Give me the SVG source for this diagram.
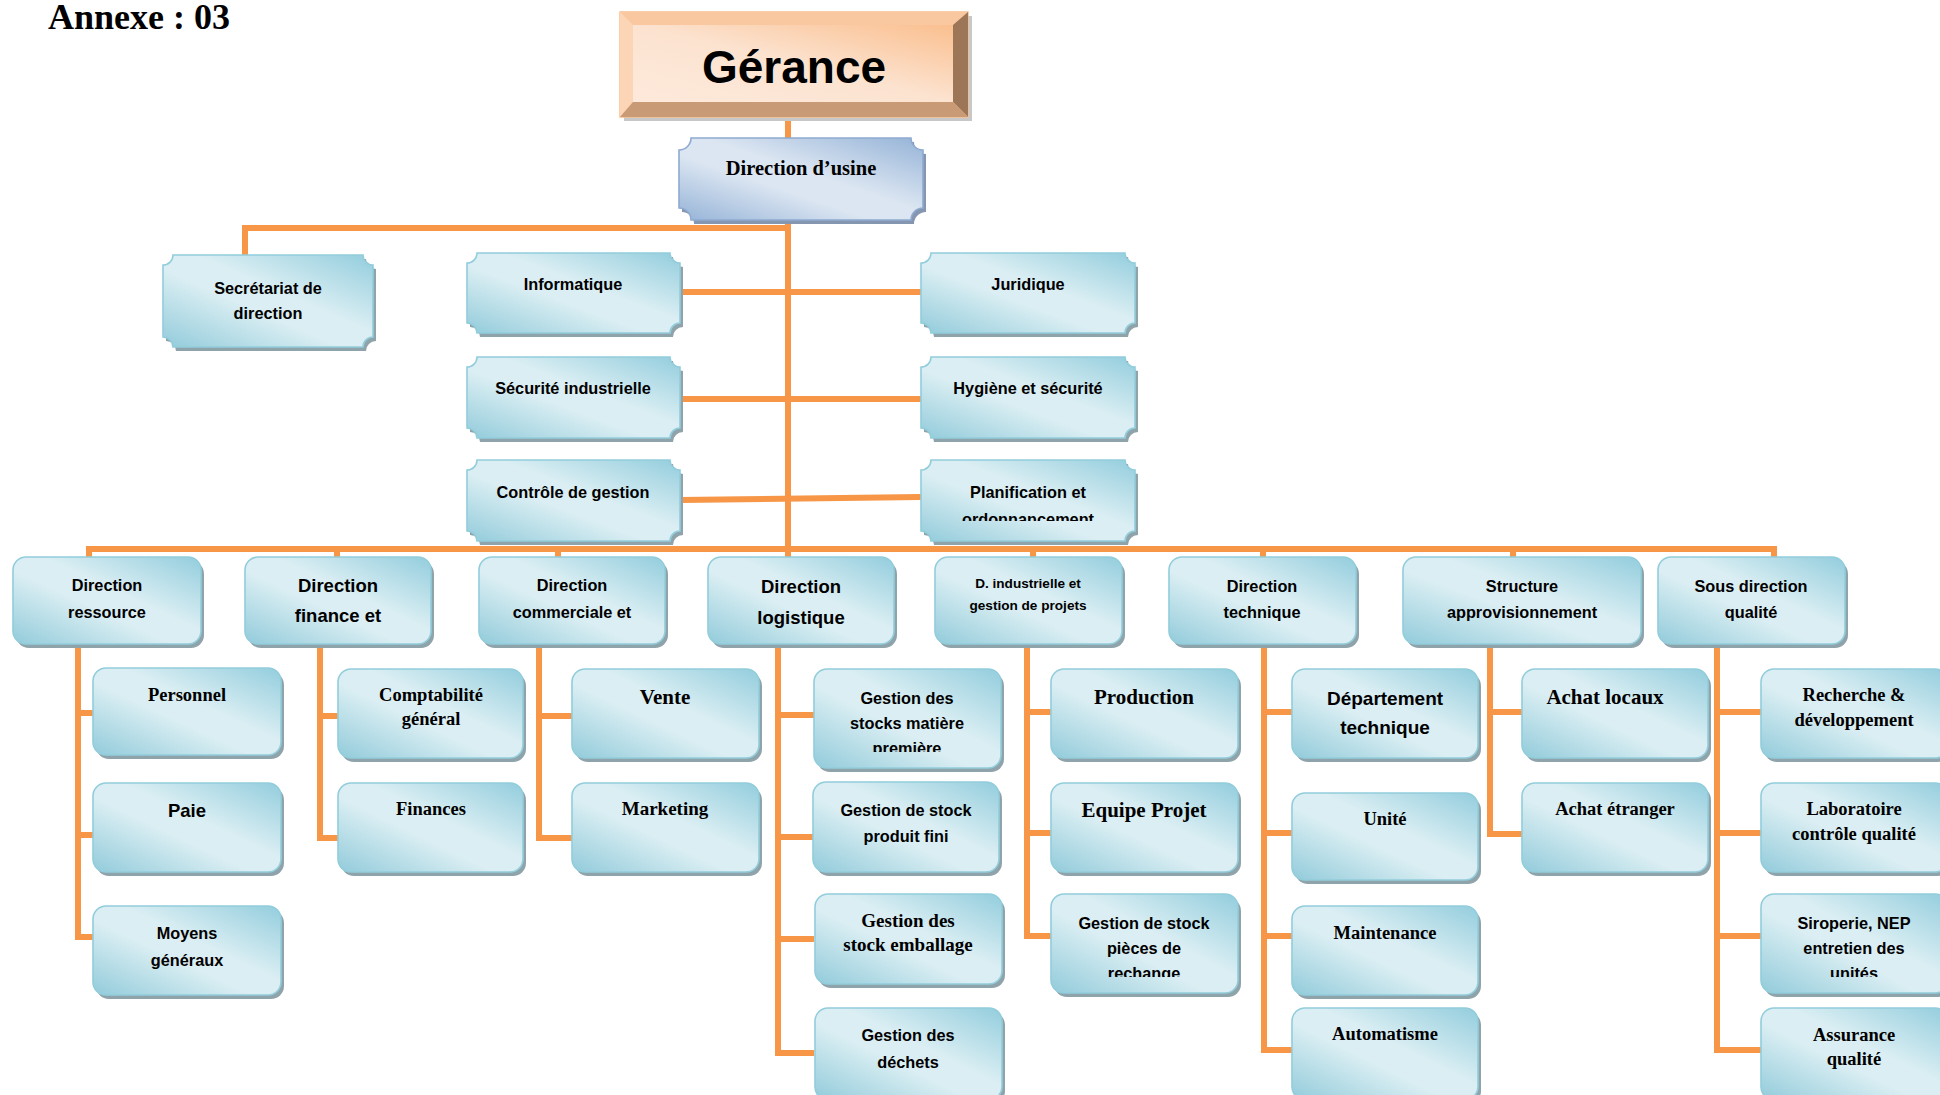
<svg xmlns="http://www.w3.org/2000/svg" width="1940" height="1095" viewBox="0 0 1940 1095">
<style>
.bx{fill:url(#gb);stroke:#92cddc;stroke-width:1.6}
.sh{fill:#8fa3ab}
.pl{fill:url(#gb);stroke:#92cddc;stroke-width:1.6}
.cn{fill:none;stroke:#f79646;stroke-width:6;stroke-linejoin:miter;stroke-linecap:butt}
text{text-anchor:middle;font-weight:bold;fill:#000}
.s{font-family:"Liberation Sans",Arial,sans-serif;font-size:16.3px}
.sm{font-family:"Liberation Sans",Arial,sans-serif;font-size:13.6px}
.sl{font-family:"Liberation Sans",Arial,sans-serif;font-size:18.5px}
.f{font-family:"Liberation Serif","Times New Roman",serif;font-size:18.5px}
.fl{font-family:"Liberation Serif","Times New Roman",serif;font-size:21px}
</style>
<defs>
<linearGradient id="gb" x1="1" y1="0" x2="0" y2="1">
<stop offset="0" stop-color="#93cddd"/>
<stop offset="0.42" stop-color="#daeef3"/>
<stop offset="0.58" stop-color="#daeef3"/>
<stop offset="1" stop-color="#92cbda"/>
</linearGradient>
<linearGradient id="gu" x1="1" y1="0" x2="0" y2="1">
<stop offset="0" stop-color="#95b3d7"/>
<stop offset="0.45" stop-color="#dce6f2"/>
<stop offset="0.6" stop-color="#dce6f2"/>
<stop offset="1" stop-color="#95b3d7"/>
</linearGradient>
<linearGradient id="go" x1="0" y1="1" x2="1" y2="0">
<stop offset="0" stop-color="#fde9db"/>
<stop offset="0.5" stop-color="#fce3d0"/>
<stop offset="1" stop-color="#fabf8f"/>
</linearGradient>
<clipPath id="c1" clipPathUnits="userSpaceOnUse"><rect x="900" y="450" width="260" height="71"/></clipPath>
<clipPath id="c2" clipPathUnits="userSpaceOnUse"><rect x="800" y="660" width="220" height="92"/></clipPath>
<clipPath id="c3" clipPathUnits="userSpaceOnUse"><rect x="1040" y="880" width="220" height="97"/></clipPath>
<clipPath id="c4" clipPathUnits="userSpaceOnUse"><rect x="1750" y="880" width="190" height="97"/></clipPath>
</defs>
<rect width="1940" height="1095" fill="#fff"/>

<text x="139" y="29" style="font-family:'Liberation Serif','Times New Roman',serif;font-size:36px">Annexe : 03</text>

<g id="connectors">
<path class="cn" d="M788,117 V138"/>
<path class="cn" d="M788,220 V557"/>
<path class="cn" d="M245,255 V228 H788"/>
<path class="cn" d="M680,292 H921"/>
<path class="cn" d="M680,399 H921"/>
<path class="cn" d="M680,500 L921,497"/>
<path class="cn" d="M89,557 V549 H1774 V557"/>
<path class="cn" d="M337,549 V557 M558,549 V557 M1033,549 V557 M1263,549 V557 M1513,549 V557"/>
<path class="cn" d="M78,644 V937 H93 M78,713 H93 M78,835 H93"/>
<path class="cn" d="M320,644 V838 H338 M320,716 H338"/>
<path class="cn" d="M539,644 V838 H572 M539,716 H572"/>
<path class="cn" d="M778,644 V1053 H814 M778,715 H814 M778,837 H814 M778,939 H814"/>
<path class="cn" d="M1027,644 V936 H1051 M1027,712 H1051 M1027,833 H1051"/>
<path class="cn" d="M1264,644 V1050 H1292 M1264,712 H1292 M1264,833 H1292 M1264,936 H1292"/>
<path class="cn" d="M1490,644 V834 H1522 M1490,712 H1522"/>
<path class="cn" d="M1717,644 V1050 H1761 M1717,712 H1761 M1717,833 H1761 M1717,936 H1761"/>
</g>

<g id="gerance">
<rect x="624" y="16" width="348" height="105" fill="#c8c8c8"/>
<rect x="620" y="12" width="348" height="105" fill="#f9c8a0" stroke="#fabf8f" stroke-width="1.5"/>
<polygon points="620,12 968,12 953,25 633,25" fill="#f9c7a0"/>
<polygon points="620,12 633,25 633,102 620,117" fill="#fbd5b6"/>
<polygon points="968,12 968,117 953,102 953,25" fill="#9c7656"/>
<polygon points="620,117 633,102 953,102 968,117" fill="#c99a76"/>
<rect x="633" y="25" width="320" height="77" fill="url(#go)"/>
<text x="794" y="83" style="font-family:'Liberation Sans',Arial,sans-serif;font-size:46px">Gérance</text>
</g>

<g id="direction-usine">
<path transform="translate(3,4)" fill="#8496b0" d="M691,138 H911 A12,12 0 0 0 923,150 V208 A12,12 0 0 0 911,220 H691 A12,12 0 0 0 679,208 V150 A12,12 0 0 0 691,138 Z"/>
<path fill="url(#gu)" stroke="#8eaad0" stroke-width="1.6" d="M691,138 H911 A12,12 0 0 0 923,150 V208 A12,12 0 0 0 911,220 H691 A12,12 0 0 0 679,208 V150 A12,12 0 0 0 691,138 Z"/>
<text class="f" x="801" y="175" style="font-size:20.5px">Direction d’usine</text>
</g>

<g id="secretariat">
<path class="sh" transform="translate(3,4)" d="M173,255 H363 A10,10 0 0 0 373,265 V337 A10,10 0 0 0 363,347 H173 A10,10 0 0 0 163,337 V265 A10,10 0 0 0 173,255 Z"/>
<path class="pl" d="M173,255 H363 A10,10 0 0 0 373,265 V337 A10,10 0 0 0 363,347 H173 A10,10 0 0 0 163,337 V265 A10,10 0 0 0 173,255 Z"/>
<text class="s" x="268" y="294">Secrétariat de</text>
<text class="s" x="268" y="319">direction</text>
</g>

<g id="informatique">
<path class="sh" transform="translate(3,4)" d="M477,253 H670 A10,10 0 0 0 680,263 V323 A10,10 0 0 0 670,333 H477 A10,10 0 0 0 467,323 V263 A10,10 0 0 0 477,253 Z"/>
<path class="pl" d="M477,253 H670 A10,10 0 0 0 680,263 V323 A10,10 0 0 0 670,333 H477 A10,10 0 0 0 467,323 V263 A10,10 0 0 0 477,253 Z"/>
<text class="s" x="573" y="290">Informatique</text>
</g>
<g id="juridique">
<path class="sh" transform="translate(3,4)" d="M931,253 H1125 A10,10 0 0 0 1135,263 V323 A10,10 0 0 0 1125,333 H931 A10,10 0 0 0 921,323 V263 A10,10 0 0 0 931,253 Z"/>
<path class="pl" d="M931,253 H1125 A10,10 0 0 0 1135,263 V323 A10,10 0 0 0 1125,333 H931 A10,10 0 0 0 921,323 V263 A10,10 0 0 0 931,253 Z"/>
<text class="s" x="1028" y="290">Juridique</text>
</g>
<g id="securite">
<path class="sh" transform="translate(3,4)" d="M477,357 H670 A10,10 0 0 0 680,367 V428 A10,10 0 0 0 670,438 H477 A10,10 0 0 0 467,428 V367 A10,10 0 0 0 477,357 Z"/>
<path class="pl" d="M477,357 H670 A10,10 0 0 0 680,367 V428 A10,10 0 0 0 670,438 H477 A10,10 0 0 0 467,428 V367 A10,10 0 0 0 477,357 Z"/>
<text class="s" x="573" y="394">Sécurité industrielle</text>
</g>
<g id="hygiene">
<path class="sh" transform="translate(3,4)" d="M931,357 H1125 A10,10 0 0 0 1135,367 V428 A10,10 0 0 0 1125,438 H931 A10,10 0 0 0 921,428 V367 A10,10 0 0 0 931,357 Z"/>
<path class="pl" d="M931,357 H1125 A10,10 0 0 0 1135,367 V428 A10,10 0 0 0 1125,438 H931 A10,10 0 0 0 921,428 V367 A10,10 0 0 0 931,357 Z"/>
<text class="s" x="1028" y="394">Hygiène et sécurité</text>
</g>
<g id="controle">
<path class="sh" transform="translate(3,4)" d="M477,460 H670 A10,10 0 0 0 680,470 V531 A10,10 0 0 0 670,541 H477 A10,10 0 0 0 467,531 V470 A10,10 0 0 0 477,460 Z"/>
<path class="pl" d="M477,460 H670 A10,10 0 0 0 680,470 V531 A10,10 0 0 0 670,541 H477 A10,10 0 0 0 467,531 V470 A10,10 0 0 0 477,460 Z"/>
<text class="s" x="573" y="498">Contrôle de gestion</text>
</g>
<g id="planification">
<path class="sh" transform="translate(3,4)" d="M931,460 H1125 A10,10 0 0 0 1135,470 V531 A10,10 0 0 0 1125,541 H931 A10,10 0 0 0 921,531 V470 A10,10 0 0 0 931,460 Z"/>
<path class="pl" d="M931,460 H1125 A10,10 0 0 0 1135,470 V531 A10,10 0 0 0 1125,541 H931 A10,10 0 0 0 921,531 V470 A10,10 0 0 0 931,460 Z"/>
<text class="s" x="1028" y="498">Planification et</text>
<text class="s" x="1028" y="525" clip-path="url(#c1)">ordonnancement</text>
</g>

<g id="dir-ressource"><rect class="sh" x="16" y="561" width="188" height="87" rx="13"/><rect class="bx" x="13" y="557" width="188" height="87" rx="13"/>
<text class="s" x="107" y="591">Direction</text><text class="s" x="107" y="618">ressource</text></g>
<g id="dir-finance"><rect class="sh" x="248" y="561" width="186" height="87" rx="13"/><rect class="bx" x="245" y="557" width="186" height="87" rx="13"/>
<text class="sl" x="338" y="592">Direction</text><text class="sl" x="338" y="622">finance et</text></g>
<g id="dir-commerciale"><rect class="sh" x="482" y="561" width="186" height="87" rx="13"/><rect class="bx" x="479" y="557" width="186" height="87" rx="13"/>
<text class="s" x="572" y="591">Direction</text><text class="s" x="572" y="618">commerciale et</text></g>
<g id="dir-logistique"><rect class="sh" x="711" y="561" width="186" height="87" rx="13"/><rect class="bx" x="708" y="557" width="186" height="87" rx="13"/>
<text class="sl" x="801" y="593">Direction</text><text class="sl" x="801" y="624">logistique</text></g>
<g id="dir-industrielle"><rect class="sh" x="938" y="561" width="187" height="87" rx="13"/><rect class="bx" x="935" y="557" width="187" height="87" rx="13"/>
<text class="sm" x="1028" y="588">D. industrielle et</text><text class="sm" x="1028" y="610">gestion de projets</text></g>
<g id="dir-technique"><rect class="sh" x="1172" y="561" width="187" height="87" rx="13"/><rect class="bx" x="1169" y="557" width="187" height="87" rx="13"/>
<text class="s" x="1262" y="592">Direction</text><text class="s" x="1262" y="618">technique</text></g>
<g id="structure-appro"><rect class="sh" x="1406" y="561" width="238" height="87" rx="13"/><rect class="bx" x="1403" y="557" width="238" height="87" rx="13"/>
<text class="s" x="1522" y="592">Structure</text><text class="s" x="1522" y="618">approvisionnement</text></g>
<g id="sous-dir-qualite"><rect class="sh" x="1661" y="561" width="187" height="87" rx="13"/><rect class="bx" x="1658" y="557" width="187" height="87" rx="13"/>
<text class="s" x="1751" y="592">Sous direction</text><text class="s" x="1751" y="618">qualité</text></g>

<g id="personnel"><rect class="sh" x="96" y="672" width="188" height="87" rx="13"/><rect class="bx" x="93" y="668" width="188" height="87" rx="13"/>
<text class="f" x="187" y="701">Personnel</text></g>
<g id="paie"><rect class="sh" x="96" y="787" width="188" height="89" rx="13"/><rect class="bx" x="93" y="783" width="188" height="89" rx="13"/>
<text class="sl" x="187" y="817">Paie</text></g>
<g id="moyens"><rect class="sh" x="96" y="910" width="188" height="89" rx="13"/><rect class="bx" x="93" y="906" width="188" height="89" rx="13"/>
<text class="s" x="187" y="939">Moyens</text><text class="s" x="187" y="966">généraux</text></g>

<g id="comptabilite"><rect class="sh" x="341" y="673" width="185" height="89" rx="13"/><rect class="bx" x="338" y="669" width="185" height="89" rx="13"/>
<text class="f" x="431" y="701">Comptabilité</text><text class="f" x="431" y="725">général</text></g>
<g id="finances"><rect class="sh" x="341" y="787" width="185" height="89" rx="13"/><rect class="bx" x="338" y="783" width="185" height="89" rx="13"/>
<text class="f" x="431" y="815">Finances</text></g>

<g id="vente"><rect class="sh" x="575" y="673" width="187" height="89" rx="13"/><rect class="bx" x="572" y="669" width="187" height="89" rx="13"/>
<text class="fl" x="665" y="704">Vente</text></g>
<g id="marketing"><rect class="sh" x="575" y="787" width="187" height="89" rx="13"/><rect class="bx" x="572" y="783" width="187" height="89" rx="13"/>
<text class="f" x="665" y="815" style="font-size:19px">Marketing</text></g>

<g id="stock-matiere"><rect class="sh" x="817" y="673" width="187" height="99" rx="13"/><rect class="bx" x="814" y="669" width="187" height="99" rx="13"/>
<text class="s" x="907" y="704">Gestion des</text><text class="s" x="907" y="729">stocks matière</text><text class="s" x="907" y="754" clip-path="url(#c2)">première</text></g>
<g id="stock-produit"><rect class="sh" x="816" y="786" width="186" height="90" rx="13"/><rect class="bx" x="813" y="782" width="186" height="90" rx="13"/>
<text class="s" x="906" y="816">Gestion de stock</text><text class="s" x="906" y="842">produit fini</text></g>
<g id="stock-emballage"><rect class="sh" x="818" y="898" width="187" height="90" rx="13"/><rect class="bx" x="815" y="894" width="187" height="90" rx="13"/>
<text class="f" x="908" y="927" style="font-size:19px">Gestion des</text><text class="f" x="908" y="951" style="font-size:19px">stock emballage</text></g>
<g id="dechets"><rect class="sh" x="818" y="1012" width="187" height="92" rx="13"/><rect class="bx" x="815" y="1008" width="187" height="92" rx="13"/>
<text class="s" x="908" y="1041">Gestion des</text><text class="s" x="908" y="1068">déchets</text></g>

<g id="production"><rect class="sh" x="1054" y="673" width="187" height="89" rx="13"/><rect class="bx" x="1051" y="669" width="187" height="89" rx="13"/>
<text class="fl" x="1144" y="704">Production</text></g>
<g id="equipe-projet"><rect class="sh" x="1054" y="787" width="187" height="89" rx="13"/><rect class="bx" x="1051" y="783" width="187" height="89" rx="13"/>
<text class="fl" x="1144" y="817">Equipe Projet</text></g>
<g id="pieces-rechange"><rect class="sh" x="1054" y="898" width="187" height="99" rx="13"/><rect class="bx" x="1051" y="894" width="187" height="99" rx="13"/>
<text class="s" x="1144" y="929">Gestion de stock</text><text class="s" x="1144" y="954">pièces de</text><text class="s" x="1144" y="979" clip-path="url(#c3)">rechange</text></g>

<g id="dept-technique"><rect class="sh" x="1295" y="673" width="186" height="89" rx="13"/><rect class="bx" x="1292" y="669" width="186" height="89" rx="13"/>
<text class="sl" x="1385" y="705" style="font-size:19px">Département</text><text class="sl" x="1385" y="734" style="font-size:19px">technique</text></g>
<g id="unite"><rect class="sh" x="1295" y="797" width="186" height="87" rx="13"/><rect class="bx" x="1292" y="793" width="186" height="87" rx="13"/>
<text class="f" x="1385" y="825">Unité</text></g>
<g id="maintenance"><rect class="sh" x="1295" y="910" width="186" height="89" rx="13"/><rect class="bx" x="1292" y="906" width="186" height="89" rx="13"/>
<text class="f" x="1385" y="939">Maintenance</text></g>
<g id="automatisme"><rect class="sh" x="1295" y="1012" width="186" height="92" rx="13"/><rect class="bx" x="1292" y="1008" width="186" height="92" rx="13"/>
<text class="f" x="1385" y="1040">Automatisme</text></g>

<g id="achat-locaux"><rect class="sh" x="1525" y="673" width="186" height="89" rx="13"/><rect class="bx" x="1522" y="669" width="186" height="89" rx="13"/>
<text class="fl" x="1605" y="704">Achat locaux</text></g>
<g id="achat-etranger"><rect class="sh" x="1525" y="787" width="186" height="89" rx="13"/><rect class="bx" x="1522" y="783" width="186" height="89" rx="13"/>
<text class="f" x="1615" y="815">Achat étranger</text></g>

<g id="recherche"><rect class="sh" x="1764" y="673" width="187" height="89" rx="13"/><rect class="bx" x="1761" y="669" width="187" height="89" rx="13"/>
<text class="f" x="1854" y="701">Recherche &amp;</text><text class="f" x="1854" y="726">développement</text></g>
<g id="laboratoire"><rect class="sh" x="1764" y="787" width="187" height="89" rx="13"/><rect class="bx" x="1761" y="783" width="187" height="89" rx="13"/>
<text class="f" x="1854" y="815">Laboratoire</text><text class="f" x="1854" y="840">contrôle qualité</text></g>
<g id="siroperie"><rect class="sh" x="1764" y="898" width="187" height="99" rx="13"/><rect class="bx" x="1761" y="894" width="187" height="99" rx="13"/>
<text class="s" x="1854" y="929">Siroperie, NEP</text><text class="s" x="1854" y="954">entretien des</text><text class="s" x="1854" y="979" clip-path="url(#c4)">unités</text></g>
<g id="assurance"><rect class="sh" x="1764" y="1012" width="187" height="92" rx="13"/><rect class="bx" x="1761" y="1008" width="187" height="92" rx="13"/>
<text class="f" x="1854" y="1041">Assurance</text><text class="f" x="1854" y="1065">qualité</text></g>
</svg>
